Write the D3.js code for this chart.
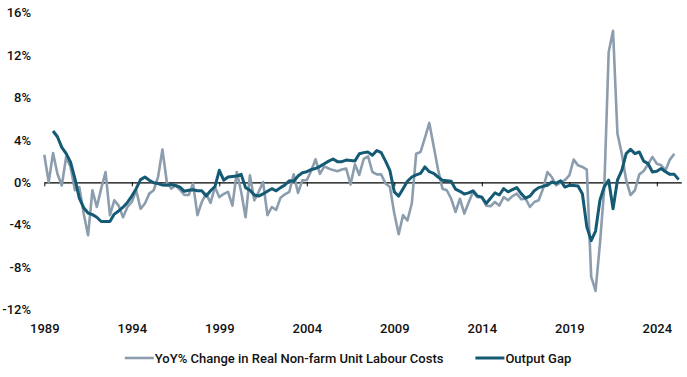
<!DOCTYPE html>
<html>
<head>
<meta charset="utf-8">
<script src="https://cdn.jsdelivr.net/npm/d3@7"></script>
<style>
  body { margin: 0; background: #fff; }
  svg text { font-family: Roboto, "Noto Sans", sans-serif; fill: #111; }
</style>
</head>
<body>
<svg id="chart" width="687" height="377"></svg>
<script>
// DATA — quarterly, first value is 1989 Q1
const startYear = 1989;
const xTickYears = [1989, 1994, 1999, 2004, 2009, 2014, 2019, 2024];
const yTicks = [-12, -8, -4, 0, 4, 8, 12, 16];
const seriesNames = ["YoY% Change in Real Non-farm Unit Labour Costs", "Output Gap"];

// YoY% change in real non-farm unit labour costs (1989 Q1 – 2025 Q1)
const ulcValues = [
  2.6, 0.0, 2.77, 0.8, -0.3, 2.4, 1.45, -0.75, -0.45, -2.95,
  -5.0, -0.75, -2.33, -0.6, 0.97, -3.1, -1.7, -2.2, -3.3, -2.33,
  -1.86, -0.75, -2.5, -2.0, -1.07, -0.75, 0.5, 3.1, 0.03, -0.6,
  -0.28, -0.7, -1.2, -1.2, -0.12, -3.1, -1.86, -1.07, -1.95, -0.44,
  -1.4, -1.1, -0.9, -2.2, 0.97, -0.9, -3.3, 0.66, -1.7, -0.9,
  0.03, -3.1, -2.33, -2.6, -1.45, -1.13, -0.9, 0.75, -1.0, 0.2,
  0.2, 1.07, 2.17, 0.8, 1.5, 1.3, 1.15, 1.04, 1.2, 1.3,
  -0.2, 1.7, 0.7, 2.2, 2.45, 0.97, 0.75, 0.75, -0.12, -0.44,
  -2.95, -4.9, -3.1, -3.6, -2.0, 2.7, 2.86, 4.2, 5.6, 3.4,
  1.2, -0.6, -0.75, -1.55, -2.8, -1.55, -2.95, -1.9, -0.9, -1.4,
  -1.4, -2.2, -2.26, -1.86, -2.2, -1.4, -1.7, -1.3, -1.07, -1.6,
  -1.55, -2.33, -1.86, -1.7, -0.6, 0.97, 0.5, -0.28, 0.0, 0.2,
  0.66, 2.14, 1.6, 1.45, 1.2, -8.9, -10.25, -5.8, -0.5, 12.3,
  14.3, 4.6, 2.7, 0.2, -1.2, -0.75, 0.75, 1.07, 1.7, 2.4,
  1.75, 1.6, 1.13, 2.14, 2.7
];

// Output gap (starts 1989 Q3, ends 2025 Q2)
const gapValues = [
  null, null, 4.84, 4.3, 3.3, 2.7, 1.9, 0.35, -1.5, -2.4,
  -2.9, -3.05, -3.3, -3.7, -3.7, -3.7, -3.0, -2.7, -2.35, -1.9,
  -1.3, -0.6, 0.25, 0.5, 0.2, -0.05, -0.12, -0.25, -0.28, -0.2,
  -0.3, -0.45, -0.85, -0.75, -0.7, -0.8, -0.8, -1.3, -0.8, -0.4,
  1.13, 0.2, 0.5, 0.55, 0.6, 0.75, -0.5, -0.75, -1.2, -1.3,
  -1.1, -0.85, -0.6, -0.8, -0.5, -0.25, 0.15, 0.1, 0.6, 0.9,
  1.0, 1.2, 1.3, 1.5, 1.75, 2.0, 2.2, 1.95, 1.95, 2.1,
  2.05, 2.0, 2.7, 2.8, 2.85, 2.55, 3.0, 2.8, 2.0, 1.1,
  -0.9, -1.3, -0.6, 0.1, 0.5, 0.7, 0.85, 1.45, 1.0, 0.85,
  0.5, 0.2, 0.15, 0.1, -0.65, -0.85, -1.1, -1.0, -0.8, -1.3,
  -1.4, -2.0, -1.5, -1.0, -1.2, -0.6, -0.9, -0.7, -0.5, -1.07,
  -1.5, -1.3, -0.8, -0.5, -0.38, -0.28, 0.03, -0.1, 0.15, -0.45,
  -0.28, -0.3, -0.35, -1.1, -4.2, -5.5, -4.6, -1.7, -0.4, 0.2,
  -2.5, 0.2, 1.13, 2.7, 3.1, 2.7, 2.86, 2.0, 1.76, 0.97,
  1.05, 1.3, 1.0, 0.75, 0.75, 0.25
];

const colors = ["#8c9dae", "#145a74"];

const svg = d3.select("#chart");

const x = d3.scaleLinear().domain([1989, 2025.4]).range([44.3, 681.3]);
const y = d3.scaleLinear().domain([-12, 16]).range([309.5, 12.7]);

const toPoints = (values) =>
  values.map((v, i) => ({ t: startYear + i / 4, value: v }));

const series = [toPoints(ulcValues), toPoints(gapValues)];

// y axis labels (no axis line)
svg.append("g")
  .attr("transform", "translate(34,0)")
  .call(d3.axisLeft(y).tickValues(yTicks).tickFormat((d) => d + "%").tickSize(0).tickPadding(3))
  .call((g) => g.select(".domain").remove())
  .call((g) => g.selectAll("text").attr("font-size", 13).attr("font-weight", 500));

// zero line with year ticks
svg.append("g")
  .attr("transform", `translate(0,${y(0)})`)
  .call(d3.axisBottom(x).tickValues(xTickYears).tickSize(4).tickSizeOuter(0).tickFormat(""))
  .call((g) => g.select(".domain").attr("stroke", "#000").attr("stroke-width", 1.3))
  .call((g) => g.selectAll(".tick line").attr("stroke", "#000").attr("stroke-width", 1));

// year labels at the bottom
svg.append("g")
  .attr("transform", "translate(0,324)")
  .call(d3.axisBottom(x).tickValues(xTickYears).tickFormat(d3.format("d")).tickSize(0).tickPadding(0))
  .call((g) => g.select(".domain").remove())
  .call((g) => g.selectAll("text").attr("font-size", 13).attr("font-weight", 500));

const line = d3.line()
  .defined((d) => d.value != null)
  .x((d) => x(d.t))
  .y((d) => y(d.value));

svg.append("g")
  .selectAll("path")
  .data(series)
  .join("path")
  .attr("fill", "none")
  .attr("stroke", (d, i) => colors[i])
  .attr("stroke-width", (d, i) => (i === 0 ? 2.6 : 3))
  .attr("stroke-linejoin", "round")
  .attr("d", line);

// legend
const legend = svg.append("g");
let cursor = 0;
const items = legend.selectAll("g")
  .data(seriesNames)
  .join("g");

items.append("line")
  .attr("x1", 0).attr("x2", 29)
  .attr("stroke", (d, i) => colors[i])
  .attr("stroke-width", (d, i) => (i === 0 ? 2.6 : 3));

items.append("text")
  .attr("x", 30)
  .attr("dy", "0.35em")
  .attr("font-size", 13)
  .attr("font-weight", 500)
  .text((d) => d);

items.each(function () {
  const w = d3.select(this).select("text").node().getComputedTextLength();
  d3.select(this).attr("transform", `translate(${cursor},0)`);
  cursor += 30 + w + 32;
});
const legendWidth = cursor - 32;
legend.attr("transform", `translate(${(124 + 572) / 2 - legendWidth / 2},358)`);
</script>
</body>
</html>
